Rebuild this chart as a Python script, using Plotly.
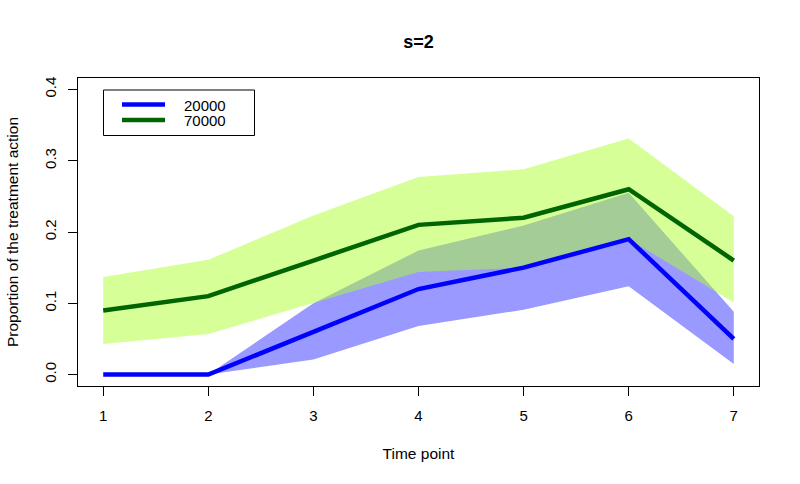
import plotly.graph_objects as go

# ---- data ----
time_points = [1, 2, 3, 4, 5, 6, 7]

mean_20000 = [0.00, 0.00, 0.060, 0.120, 0.150, 0.190, 0.050]
lower_20000 = [0.00, 0.00, 0.021, 0.068, 0.091, 0.124, 0.015]
upper_20000 = [0.00, 0.00, 0.100, 0.174, 0.209, 0.255, 0.088]

mean_70000 = [0.090, 0.110, 0.160, 0.210, 0.220, 0.260, 0.160]
lower_70000 = [0.043, 0.057, 0.100, 0.144, 0.150, 0.190, 0.101]
upper_70000 = [0.137, 0.161, 0.223, 0.277, 0.288, 0.331, 0.222]

series_names = ["20000", "70000"]
y_tick_vals = [0.0, 0.1, 0.2, 0.3, 0.4]
y_tick_text = ["0.0", "0.1", "0.2", "0.3", "0.4"]

# ---- styling ----
FONT = "Liberation Sans, Arial, sans-serif"
BLUE = "#0000FF"
DGREEN = "#006400"
BLUE_FILL = "rgba(0,0,255,0.4)"
GREEN_FILL = "rgba(173,255,47,0.5)"

W, H = 800, 484
L, R, T, B = 78, 41, 78, 98


def band(x, lo, hi, color):
    return go.Scatter(
        x=list(x) + list(x)[::-1],
        y=list(hi) + list(lo)[::-1],
        fill="toself", fillcolor=color, mode="lines",
        line=dict(width=0), hoverinfo="skip", showlegend=False,
    )


fig = go.Figure()
fig.add_trace(band(time_points, lower_20000, upper_20000, BLUE_FILL))
fig.add_trace(band(time_points, lower_70000, upper_70000, GREEN_FILL))
fig.add_trace(go.Scatter(x=time_points, y=mean_20000, mode="lines", name=series_names[0],
                         line=dict(color=BLUE, width=4.5), showlegend=False))
fig.add_trace(go.Scatter(x=time_points, y=mean_70000, mode="lines", name=series_names[1],
                         line=dict(color=DGREEN, width=4.5), showlegend=False))

# ---- manual legend (R-style box) ----
pw, ph = W - L - R, H - T - B


def px(xp):
    return (xp - L) / pw


def py(yp):
    return (H - B - yp) / ph


shapes = [dict(type="rect", xref="paper", yref="paper",
               x0=px(103.5), x1=px(254.5), y0=py(135.5), y1=py(90),
               line=dict(color="black", width=1), fillcolor="white", layer="above")]
annotations = []
for i, (name, col) in enumerate(zip(series_names, [BLUE, DGREEN])):
    yy = 104.5 + 15.5 * i
    shapes.append(dict(type="line", xref="paper", yref="paper",
                       x0=px(122), x1=px(165), y0=py(yy), y1=py(yy),
                       line=dict(color=col, width=4.5), layer="above"))
    annotations.append(dict(xref="paper", yref="paper", x=px(182), y=py(yy + 0.5),
                            text=name, showarrow=False, xanchor="left", yanchor="middle",
                            font=dict(family=FONT, size=15, color="black")))

fig.update_layout(
    width=W, height=H,
    margin=dict(l=L, r=R, t=T, b=B, autoexpand=False),
    paper_bgcolor="white", plot_bgcolor="white",
    font=dict(family=FONT, size=14, color="black"),
    title=dict(text="<b>s=2</b>", x=0.5, xref="paper", xanchor="center",
               y=1 - 41.5 / H, yref="container", yanchor="middle",
               font=dict(family=FONT, size=18, color="black")),
    showlegend=False,
    shapes=shapes,
    annotations=annotations,
    xaxis=dict(range=[0.76, 7.24], tickvals=time_points, ticks="outside", ticklen=9,
               tickwidth=1, tickcolor="black", showline=True, linecolor="black",
               linewidth=1, mirror=True, showgrid=False, zeroline=False,
               automargin=False, ticklabelstandoff=7,
               tickfont=dict(family=FONT, size=15),
               title=dict(text="Time point", standoff=25,
                          font=dict(family=FONT, size=15.5))),
    yaxis=dict(range=[-0.016, 0.416], tickvals=y_tick_vals, ticktext=y_tick_text,
               tickangle=-90, ticks="outside", ticklen=9, tickwidth=1, tickcolor="black",
               showline=True, linecolor="black", linewidth=1, mirror=True,
               showgrid=False, zeroline=False, automargin=False, ticklabelstandoff=6,
               tickfont=dict(family=FONT, size=15),
               title=dict(text="Proportion of the treatment action", standoff=19,
                          font=dict(family=FONT, size=15.5))),
)

fig.write_html("out.html", config={"displayModeBar": False},
               post_script="document.body.style.margin='0';")
